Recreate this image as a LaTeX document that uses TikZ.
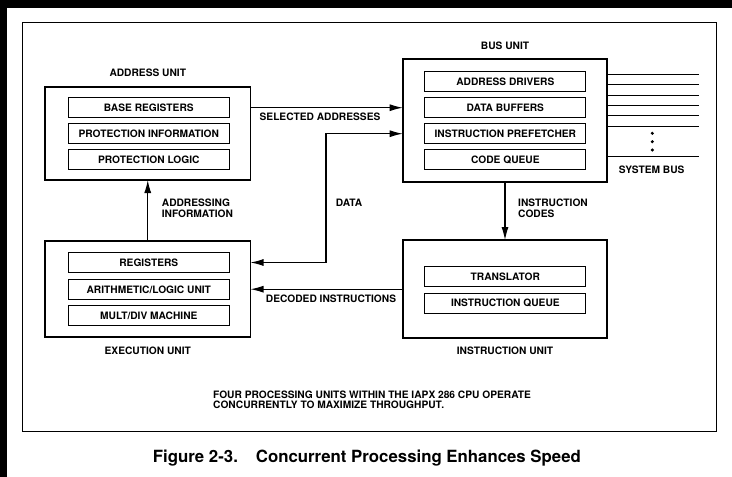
\documentclass[tikz,border=0pt]{standalone}
\usepackage{fontspec}
\setmainfont{TeX Gyre Heros}
\usetikzlibrary{arrows.meta}
\newcommand\lblfont{\fontsize{10.2}{11.3}\selectfont\bfseries}
\newcommand\footfont{\fontsize{10.2}{10.2}\selectfont\bfseries}
\newcommand\capfont{\fontsize{16.8}{18}\selectfont\bfseries}
\begin{document}
\begin{tikzpicture}[x=1pt,y=-1pt,
  unitbox/.style={draw, line width=1.8pt, inner sep=0pt, outer sep=0pt},
  subbox/.style={draw, line width=1pt, minimum width=161pt, minimum height=20pt, inner sep=0pt, outer sep=0pt, font=\lblfont},
  lbl/.style={font=\lblfont, inner sep=0pt},
  conn/.style={line width=1.1pt},
  arr/.style={conn, -{Latex[length=13pt,width=7pt]}},
  darr/.style={conn, {Latex[length=13pt,width=7pt]}-{Latex[length=13pt,width=7pt]}}
]
\useasboundingbox (0,0) rectangle (732,477);
\fill[white] (0,0) rectangle (732,477);
\fill[black] (0,0) rectangle (732,8);
\fill[black] (0,0) rectangle (7,477);
% outer frame
\draw[line width=1pt] (22.7,22) rectangle (716.7,431.5);

% units
\node[unitbox, minimum width=205.5pt, minimum height=93.3pt] (addr) at (147.75,133.35) {};
\node[unitbox, minimum width=204.6pt, minimum height=122.4pt] (bus) at (505,120.5) {};
\node[unitbox, minimum width=205.5pt, minimum height=96.6pt] (exec) at (147.75,289) {};
\node[unitbox, minimum width=204.6pt, minimum height=98.3pt] (instr) at (505,289.2) {};

% unit titles
\node[lbl] (addrT) at (147.75,72.7) {ADDRESS UNIT};
\node[lbl] (busT) at (505,45.7) {BUS UNIT};
\node[lbl] (execT) at (147.75,351) {EXECUTION UNIT};
\node[lbl] (instrT) at (505,351) {INSTRUCTION UNIT};

% address unit contents
\node[subbox] (basereg) at (148.8,107.5) {BASE REGISTERS};
\node[subbox] (protinfo) at (148.8,133.3) {PROTECTION INFORMATION};
\node[subbox] (protlog) at (148.8,159.3) {PROTECTION LOGIC};

% bus unit contents
\node[subbox] (adrdrv) at (505.35,81.3) {ADDRESS DRIVERS};
\node[subbox] (databuf) at (505.35,107.7) {DATA BUFFERS};
\node[subbox] (prefetch) at (505.35,133.7) {INSTRUCTION PREFETCHER};
\node[subbox] (codeq) at (505.35,159.5) {CODE QUEUE};

% execution unit contents
\node[subbox] (regs) at (148.8,262.5) {REGISTERS};
\node[subbox] (alu) at (148.8,289.3) {ARITHMETIC/LOGIC UNIT};
\node[subbox] (muldiv) at (148.8,315.7) {MULT/DIV MACHINE};

% instruction unit contents
\node[subbox] (transl) at (505.35,276.7) {TRANSLATOR};
\node[subbox] (iqueue) at (505.35,303) {INSTRUCTION QUEUE};

% connectors
\draw[arr] (addr.east |- databuf) -- (bus.west |- databuf);
\node[lbl] (selL) at (320,116.5) {SELECTED ADDRESSES};

\coordinate (dcorner) at (326,133.7);
\draw[darr] (bus.west |- prefetch) -- (dcorner) -- (dcorner |- regs) -- (exec.east |- regs);
\node[lbl] (dataL) at (349,202.7) {DATA};

\draw[arr] (instr.west) -- (exec.east |- instr.west);
\node[lbl] (decL) at (331,298.5) {DECODED INSTRUCTIONS};

\draw[arr] (exec.north) -- (addr.south);
\node[lbl, anchor=west, align=left] (adrinfL) at (161.7,208.4) {ADDRESSING\\INFORMATION};

\draw[arr] (bus.south) -- (instr.north);
\node[lbl, anchor=west, align=left] (icodesL) at (518,208.6) {INSTRUCTION\\CODES};

% system bus
\foreach \yy in {74,84.3,95,105.3,115.7,126,156.7}
  \draw[line width=0.9pt] (bus.east |- 0,\yy) -- (699.3,\yy);
\foreach \yy in {133.3,141.7,150}
  \fill (652.3,\yy) circle (1.7pt);
\node[lbl] (sysbusL) at (651.7,170) {SYSTEM BUS};

% footer
\node[font=\footfont, inner sep=0pt, anchor=north west, align=left] (foot) at (213,390.5)
  {FOUR PROCESSING UNITS WITHIN THE IAPX 286 CPU OPERATE\\CONCURRENTLY TO MAXIMIZE THROUGHPUT.};

% caption
\node[font=\capfont, inner sep=0pt, anchor=base west] (cap) at (152.7,462.7)
  {Figure 2-3.\hspace{18pt}Concurrent Processing Enhances Speed};
\end{tikzpicture}
\end{document}
